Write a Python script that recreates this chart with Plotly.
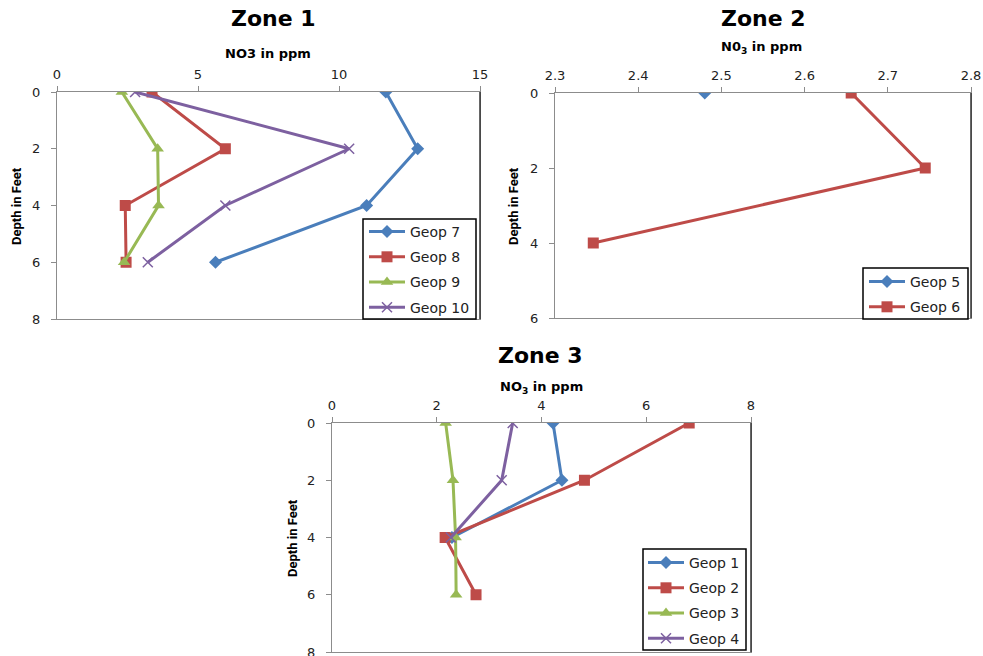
import plotly.graph_objects as go

W, H = 983, 656

# ---------------- data ----------------
depth = [0, 2, 4, 6]

z1_names = ["Geop 7", "Geop 8", "Geop 9", "Geop 10"]
z1_geop7 = [11.66, 12.79, 10.98, 5.62]
z1_geop8 = [3.37, 5.97, 2.42, 2.45]
z1_geop9 = [2.30, 3.57, 3.60, 2.38]
z1_geop10 = [2.77, 10.36, 5.97, 3.22]

z2_names = ["Geop 5", "Geop 6"]
z2_geop5_depth = [0]
z2_geop5 = [2.48]
z2_geop6_depth = [0, 2, 4]
z2_geop6 = [2.656, 2.745, 2.346]

z3_names = ["Geop 1", "Geop 2", "Geop 3", "Geop 4"]
z3_geop1_depth = [0, 2, 4]
z3_geop1 = [4.22, 4.39, 2.29]
z3_geop2 = [6.82, 4.82, 2.16, 2.75]
z3_geop3 = [2.17, 2.31, 2.36, 2.37]
z3_geop4_depth = [0, 2, 4]
z3_geop4 = [3.45, 3.24, 2.27]

depth_ticks_8 = [0, 2, 4, 6, 8]
depth_ticks_6 = [0, 2, 4, 6]

# ---------------- styles ----------------
BLUE, RED, GREEN, PURPLE = "#4A7EBB", "#BE4B48", "#98B954", "#7D60A0"
STY = [
    (BLUE, "diamond", 10),
    (RED, "square", 11),
    (GREEN, "triangle-up", 11),
    (PURPLE, "x-thin", 10),
]

fig = go.Figure()


def add(x, y, name, sty, xa, ya, leg, group):
    c, sym, sz = sty
    mk = dict(color=c, symbol=sym, size=sz)
    if sym == "x-thin":
        mk["line"] = dict(color=c, width=1.5)
    fig.add_trace(go.Scatter(
        x=x, y=y, name=name, mode="lines+markers",
        line=dict(color=c, width=3), marker=mk,
        xaxis=xa, yaxis=ya, legend=leg, legendgroup=group,
    ))


add(z1_geop7, depth, z1_names[0], STY[0], "x", "y", "legend", "a1")
add(z1_geop8, depth, z1_names[1], STY[1], "x", "y", "legend", "a2")
add(z1_geop9, depth, z1_names[2], STY[2], "x", "y", "legend", "a3")
add(z1_geop10, depth, z1_names[3], STY[3], "x", "y", "legend", "a4")

add(z2_geop5, z2_geop5_depth, z2_names[0], STY[0], "x2", "y2", "legend2", "b1")
add(z2_geop6, z2_geop6_depth, z2_names[1], STY[1], "x2", "y2", "legend2", "b2")

add(z3_geop1, z3_geop1_depth, z3_names[0], STY[0], "x3", "y3", "legend3", "c1")
add(z3_geop2, depth, z3_names[1], STY[1], "x3", "y3", "legend3", "c2")
add(z3_geop3, depth, z3_names[2], STY[2], "x3", "y3", "legend3", "c3")
add(z3_geop4, z3_geop4_depth, z3_names[3], STY[3], "x3", "y3", "legend3", "c4")


def px_x(a, b):
    return [a / W, b / W]


def px_y(top, bottom):
    return [1 - bottom / H, 1 - top / H]


TICKFONT = dict(family="DejaVu Sans", size=13, color="#222222")
AXC = "#8C8C8C"


def xax(dom, rng, dtick, anchor, fmt=None):
    d = dict(domain=dom, range=rng, dtick=dtick, tick0=rng[0], side="top",
             anchor=anchor, showline=True, linecolor=AXC, linewidth=1,
             mirror=True, ticks="outside", ticklen=5, tickcolor=AXC,
             showgrid=False, zeroline=False, tickfont=TICKFONT, fixedrange=True,
             automargin=False, ticklabelstandoff=2)
    if fmt:
        d["tickformat"] = fmt
    return d


def yax(dom, rng, anchor, tv):
    return dict(domain=dom, range=rng, tickmode="array", tickvals=tv,
                ticktext=[str(v) for v in tv], anchor=anchor,
                showline=True, linecolor=AXC, linewidth=1, mirror=True,
                ticks="outside", ticklen=5, tickcolor=AXC,
                showgrid=False, zeroline=False, tickfont=TICKFONT, fixedrange=True,
                automargin=False, ticklabeloverflow="allow", ticklabelstandoff=8)


z1x, z1y = px_x(57, 480), px_y(92, 319)
z2x, z2y = px_x(555, 971), px_y(93, 318)
z3x, z3y = px_x(332, 751), px_y(423, 652)

LEGFONT = dict(family="DejaVu Sans", size=14, color="#222222")


def leg(xl, yt):
    return dict(x=xl / W, y=1 - yt / H, xanchor="left", yanchor="top",
                bgcolor="rgba(0,0,0,0)", borderwidth=0,
                font=LEGFONT, traceorder="grouped", tracegroupgap=4,
                itemwidth=36)


fig.update_layout(
    template="none",
    width=W, height=H, margin=dict(l=0, r=0, t=0, b=0, autoexpand=False),
    paper_bgcolor="white", plot_bgcolor="white",
    xaxis=xax(z1x, [0, 15], 5, "y"),
    yaxis=yax(z1y, [8, 0], "x", depth_ticks_8),
    xaxis2=xax(z2x, [2.3, 2.8], 0.1, "y2", ".1f"),
    yaxis2=yax(z2y, [6, 0], "x2", depth_ticks_6),
    xaxis3=xax(z3x, [0, 8], 2, "y3"),
    yaxis3=yax(z3y, [8, 0], "x3", depth_ticks_8),
    legend=leg(364, 216),
    legend2=leg(864, 266),
    legend3=leg(643, 547),
    showlegend=True,
)

# right edges darker like the original
for xr, yt, yb in [(480, 92, 319), (971, 93, 318), (751, 423, 652)]:
    fig.add_shape(type="line", xref="paper", yref="paper",
                  x0=xr / W, x1=xr / W, y0=1 - yb / H, y1=1 - yt / H,
                  line=dict(color="#333333", width=1.5))

# legend frames
for x0, y0, x1, y1 in [(363, 219, 476, 319), (863, 268, 968, 319), (643, 549, 746, 650)]:
    fig.add_shape(type="rect", xref="paper", yref="paper", layer="above",
                  x0=x0 / W, x1=x1 / W, y0=1 - y1 / H, y1=1 - y0 / H,
                  fillcolor="white", line=dict(color="black", width=1.5))

TITLEF = dict(family="DejaVu Sans", size=22, color="black")
AXTF = dict(family="DejaVu Sans", size=13, color="black")
YTF = dict(family="Roboto", size=13, color="black")


def ann(text, x, y, font, angle=0):
    fig.add_annotation(text=text, x=x / W, y=1 - y / H, xref="paper", yref="paper",
                       showarrow=False, font=font, textangle=angle,
                       xanchor="center", yanchor="middle")


ann("<b>Zone 1</b>", 273, 19, TITLEF)
ann("<b>Zone 2</b>", 763, 19, TITLEF)
ann("<b>Zone 3</b>", 540, 355, TITLEF)
ann("<b>NO3 in ppm</b>", 268, 54, AXTF)
ann("<b>N0<sub>3</sub> in ppm</b>", 761, 47, AXTF)
ann("<b>NO<sub>3</sub> in ppm</b>", 541, 387, AXTF)
ann("<b>Depth in Feet</b>", 17, 206, YTF, -90)
ann("<b>Depth in Feet</b>", 514, 206, YTF, -90)
ann("<b>Depth in Feet</b>", 292, 538, YTF, -90)

fig.write_html("out.html")
